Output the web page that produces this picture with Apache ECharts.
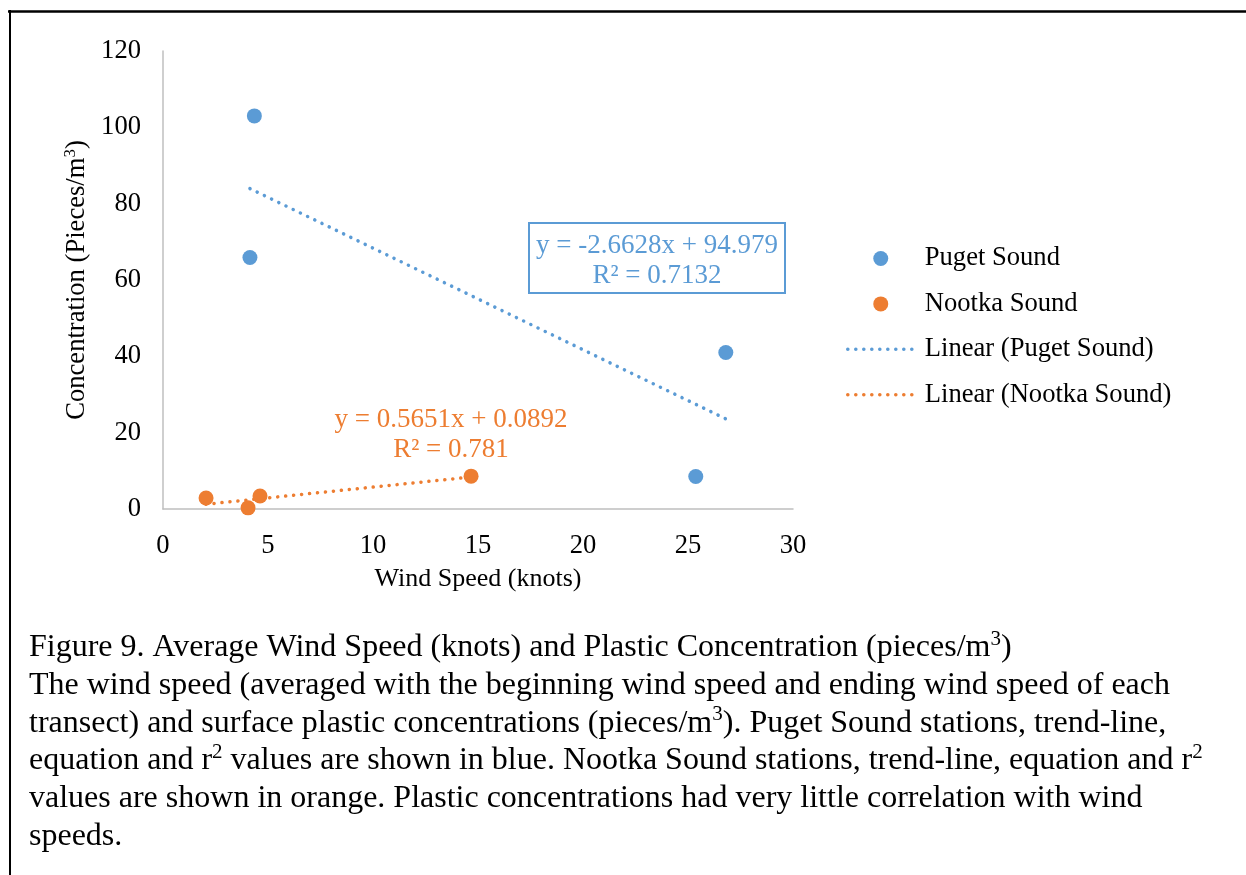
<!DOCTYPE html>
<html>
<head>
<meta charset="utf-8">
<script src="https://cdn.jsdelivr.net/npm/echarts@6/dist/echarts.min.js"></script>
<style>
html,body{margin:0;padding:0;background:#fff;}
#chart{width:1246px;height:875px;}
</style>
</head>
<body>
<div id="chart"></div>
<script>
// ---- data ----
const windPuget = [4.35, 4.14, 26.8, 25.37];
const concPuget = [103.0, 65.9, 41.0, 8.5];
const windNootka = [2.05, 4.05, 4.62, 14.67];
const concNootka = [2.9, 0.3, 3.4, 8.6];
const trendPugetCoef = [-2.6628, 94.979];   // slope, intercept
const trendNootkaCoef = [0.5651, 0.0892];
const seriesNames = ['Puget Sound', 'Nootka Sound', 'Linear (Puget Sound)', 'Linear (Nootka Sound)'];
const eqPuget = ['y = -2.6628x + 94.979', 'R\u00B2 = 0.7132'];
const eqNootka = ['y = 0.5651x + 0.0892', 'R\u00B2 = 0.781'];

const BLUE = '#5B9BD5', ORANGE = '#ED7D31';
const FONT = "'Liberation Serif','Times New Roman',serif";
const FS = 26.6;

function pairs(xs, ys) { return xs.map((x, i) => [x, ys[i]]); }
function trend(xs, coef) {
  const lo = Math.min(...xs), hi = Math.max(...xs);
  return [[lo, coef[0] * lo + coef[1]], [hi, coef[0] * hi + coef[1]]];
}

const chart = echarts.init(document.getElementById('chart'));
const dotted = { width: 3.5, type: [0.1, 7.9], cap: 'round' };

const capStyle = { fontFamily: FONT, fontSize: 32, color: '#000', lineHeight: 37.7 };
const supStyle = { fontFamily: FONT, fontSize: 21, color: '#000', lineHeight: 37.7, verticalAlign: 'top' };
const caption =
  '{n|Figure 9. Average Wind Speed (knots) and Plastic Concentration (pieces/m}{s|3}{n|)}\n' +
  '{n|The wind speed (averaged with the beginning wind speed and ending wind speed of each}\n' +
  '{n|transect) and surface plastic concentrations (pieces/m}{s|3}{n|). Puget Sound stations, trend-line,}\n' +
  '{n|equation and r}{s|2}{n| values are shown in blue. Nootka Sound stations, trend-line, equation and r}{s|2}\n' +
  '{n|values are shown in orange. Plastic concentrations had very little correlation with wind}\n' +
  '{n|speeds.}';

const option = {
  backgroundColor: '#fff',
  animation: false,
  grid: { left: 163, top: 51, right: 453, bottom: 366, containLabel: false },
  xAxis: {
    type: 'value', min: 0, max: 30, interval: 5,
    name: 'Wind Speed (knots)', nameLocation: 'middle', nameGap: 57,
    nameTextStyle: { fontFamily: FONT, fontSize: 26, color: '#000' },
    axisLine: { show: true, lineStyle: { color: '#BFBFBF', width: 1.5 } },
    axisTick: { show: false },
    splitLine: { show: false },
    axisLabel: { fontFamily: FONT, fontSize: FS, color: '#000', margin: 24 }
  },
  yAxis: {
    type: 'value', min: 0, max: 120, interval: 20,
    name: '{n|Concentration (Pieces/m}{s|3}{n|)}', nameLocation: 'middle', nameGap: 56, nameRotate: 90,
    nameTextStyle: {
      fontFamily: FONT, fontSize: FS, color: '#000',
      rich: {
        n: { fontFamily: FONT, fontSize: FS, color: '#000', lineHeight: 30 },
        s: { fontFamily: FONT, fontSize: 17, color: '#000', lineHeight: 30, verticalAlign: 'top' }
      }
    },
    axisLine: { show: true, lineStyle: { color: '#BFBFBF', width: 1.5 } },
    axisTick: { show: false },
    splitLine: { show: false },
    axisLabel: { fontFamily: FONT, fontSize: FS, color: '#000', margin: 22, padding: [5, 0, 0, 0] }
  },
  legend: {
    orient: 'vertical', left: 841, top: 240,
    itemWidth: 66, itemHeight: 15, itemGap: 18.4,
    data: [
      { name: seriesNames[0] },
      { name: seriesNames[1] },
      { name: seriesNames[2], itemStyle: { opacity: 0 }, lineStyle: { width: 3.5, type: [0.1, 7.9], cap: 'round' } },
      { name: seriesNames[3], itemStyle: { opacity: 0 }, lineStyle: { width: 3.5, type: [0.1, 7.9], cap: 'round' } }
    ],
    textStyle: { fontFamily: FONT, fontSize: FS, color: '#000', padding: [0, 0, 0, 6] }
  },
  series: [
    { name: seriesNames[0], type: 'scatter', symbol: 'circle', symbolSize: 15, z: 3,
      itemStyle: { color: BLUE, opacity: 1 }, data: pairs(windPuget, concPuget) },
    { name: seriesNames[1], type: 'scatter', symbol: 'circle', symbolSize: 15, z: 3,
      itemStyle: { color: ORANGE, opacity: 1 }, data: pairs(windNootka, concNootka) },
    { name: seriesNames[2], type: 'line', symbol: 'none', showSymbol: false, z: 2,
      itemStyle: { color: BLUE, opacity: 0 }, lineStyle: Object.assign({ color: BLUE }, dotted),
      data: trend(windPuget, trendPugetCoef) },
    { name: seriesNames[3], type: 'line', symbol: 'none', showSymbol: false, z: 2,
      itemStyle: { color: ORANGE, opacity: 0 }, lineStyle: Object.assign({ color: ORANGE }, dotted),
      data: trend(windNootka, trendNootkaCoef) }
  ],
  graphic: [
    { type: 'line', shape: { x1: 8, y1: 11.5, x2: 1246, y2: 11.5 }, style: { stroke: '#000', lineWidth: 2.5 } },
    { type: 'line', shape: { x1: 10, y1: 10, x2: 10, y2: 875 }, style: { stroke: '#000', lineWidth: 2 } },
    { type: 'rect', shape: { x: 529, y: 223, width: 256, height: 70 }, style: { fill: '#fff', stroke: BLUE, lineWidth: 2 } },
    { type: 'text', x: 657, y: 246, style: { text: eqPuget[0], fill: BLUE, font: '27px ' + FONT, textAlign: 'center', textVerticalAlign: 'middle' } },
    { type: 'text', x: 657, y: 276, style: { text: eqPuget[1], fill: BLUE, font: '27px ' + FONT, textAlign: 'center', textVerticalAlign: 'middle' } },
    { type: 'text', x: 451, y: 420, style: { text: eqNootka[0], fill: ORANGE, font: '27px ' + FONT, textAlign: 'center', textVerticalAlign: 'middle' } },
    { type: 'text', x: 451, y: 450, style: { text: eqNootka[1], fill: ORANGE, font: '27px ' + FONT, textAlign: 'center', textVerticalAlign: 'middle' } },
    { type: 'text', x: 29, y: 629, style: { text: caption, rich: { n: capStyle, s: supStyle }, fill: '#000', font: '32px ' + FONT } }
  ]
};
chart.setOption(option);
</script>
</body>
</html>
